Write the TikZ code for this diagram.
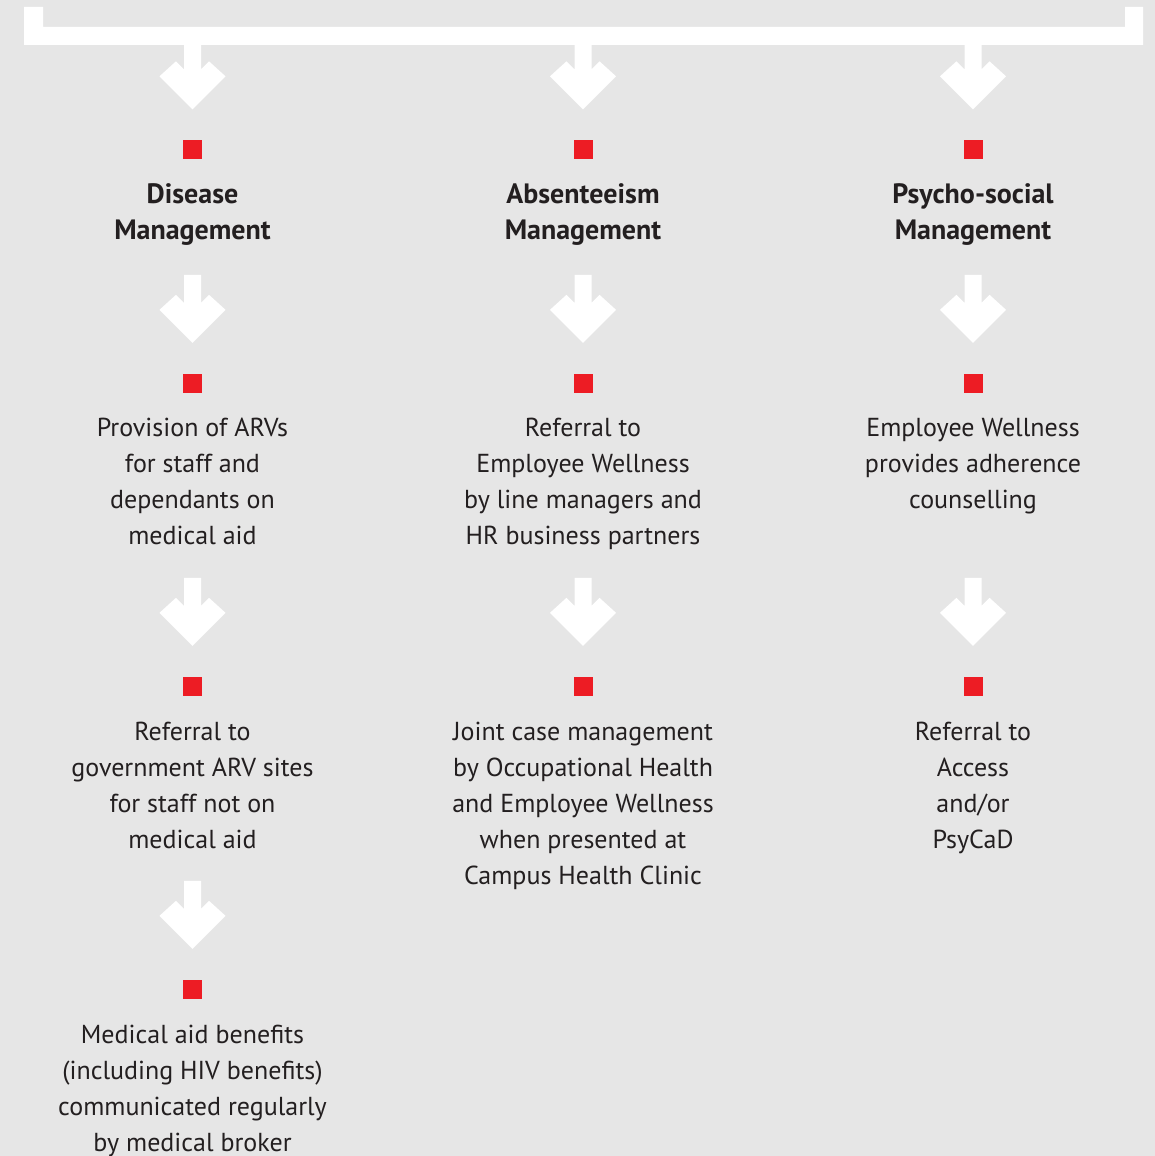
\documentclass[tikz,border=0pt]{standalone}
\usepackage{fontspec}
\setmainfont{PT Sans}
\usetikzlibrary{calc}
\definecolor{bgc}{HTML}{E6E6E6}
\definecolor{accent}{HTML}{ED1C24}
\definecolor{ink}{HTML}{231F20}
\begin{document}
\begin{tikzpicture}[x=1pt,y=1pt,
  sqr/.style={fill=accent,draw=none,minimum size=19pt,inner sep=0pt},
  body/.style={align=center,inner sep=0pt,text=ink,anchor=base,
    font=\fontsize{26}{36}\selectfont},
  head/.style={body,font=\fontsize{28}{36}\selectfont\bfseries},
  darrow/.pic={\fill[white] (-8.5,68) -- (-8.5,40) -- (-16.5,48) -- (-33,33) -- (0,0)
     -- (33,33) -- (16.5,48) -- (8.5,40) -- (8.5,68) -- cycle;}]
\fill[bgc] (0,0) rectangle (1155,-1156);
\useasboundingbox (0,0) rectangle (1155,-1156);
% top bracket bar
\fill[white] (24,-7) -- (43,-7) -- (43,-27) -- (1125,-27) -- (1125,-7) -- (1143,-7)
  -- (1143,-45) -- (24,-45) -- cycle;
% red squares
\foreach \c/\x in {a/192.5,b/583,c/973}{
  \node[sqr] (\c1) at (\x,-149.5) {};
  \node[sqr] (\c2) at (\x,-383) {};
  \node[sqr] (\c3) at (\x,-686) {};
}
\node[sqr] (a4) at (192.5,-989) {};
% headings (anchor = baseline of last line)
\node[head] (ha) at (192.5,-239) {Disease\\Management};
\node[head] (hb) at (583,-239) {Absenteeism\\Management};
\node[head] (hc) at (973,-239) {Psycho-social\\Management};
% body texts
\node[body] (ta1) at (192.5,-544) {Provision of ARVs\\for staff and\\dependants on\\medical aid};
\node[body] (ta2) at (192.5,-848) {Referral to\\government ARV sites\\for staff not on\\medical aid};
\node[body] (ta3) at (192.5,-1151) {Medical aid benefits\\(including HIV benefits)\\communicated regularly\\by medical broker};
\node[body] (tb1) at (583,-544) {Referral to\\Employee Wellness\\by line managers and\\HR business partners};
\node[body] (tb2) at (583,-884) {Joint case management\\by Occupational Health\\and Employee Wellness\\when presented at\\Campus Health Clinic};
\node[body] (tc1) at (973,-508) {Employee Wellness\\provides adherence\\counselling};
\node[body] (tc2) at (973,-848) {Referral to\\Access\\and/or\\PsyCaD};
% block arrows
\foreach \n in {a1,b1,c1,a2,b2,c2,a3,b3,c3,a4}{
  \pic at ($(\n.north)+(0,30.5)$) {darrow};
}
\end{tikzpicture}
\end{document}
